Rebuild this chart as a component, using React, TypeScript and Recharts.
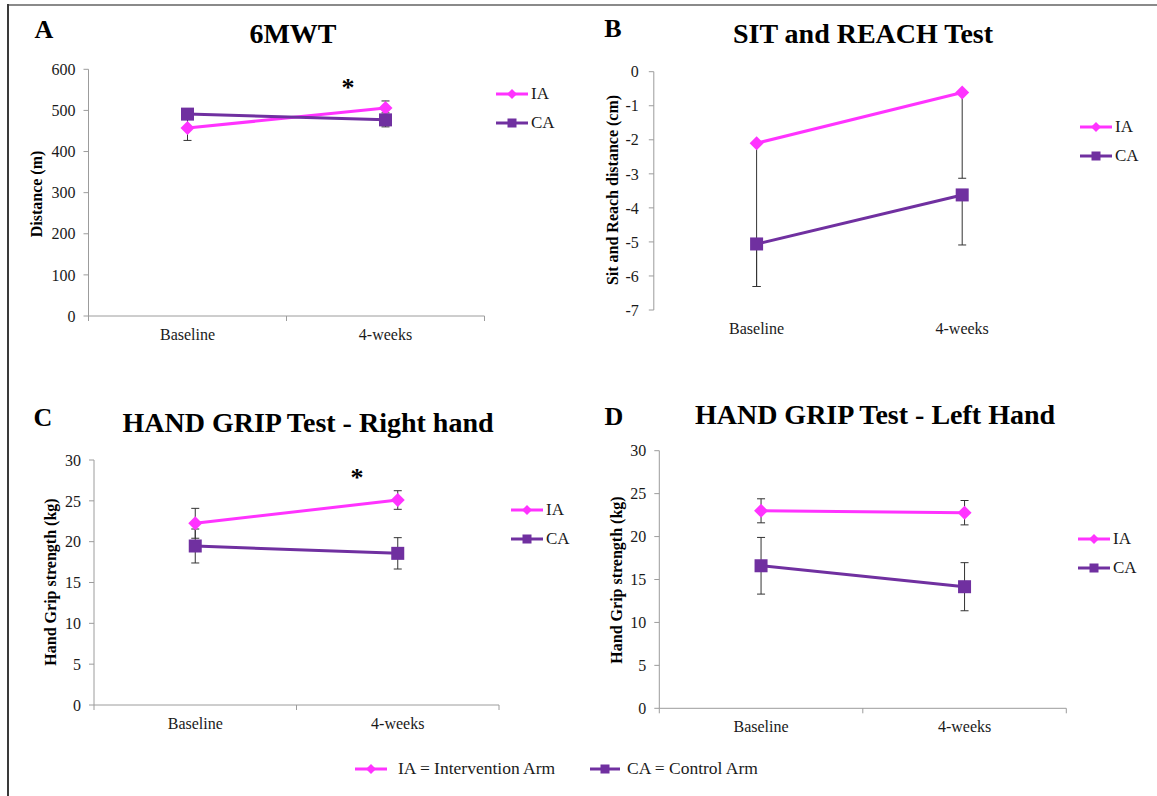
import React from "react";
import { LineChart, Line, XAxis, YAxis, ErrorBar, Legend } from "recharts";

const FONT = '"Liberation Serif", "Times New Roman", serif';
const IA_COLOR = "#FF33FF";
const CA_COLOR = "#7030A0";
const AXIS_COLOR = "#9c9c9c";
const TEXT_COLOR = "#1a1a1a";

const categories = ["Baseline", "4-weeks"];
const seriesNames = ["IA", "CA"];

// A - 6MWT (m)
const walkIA = [457, 506];
const walkIAErr = [30, 17];
const walkCA = [491, 477];
const walkCAErr = [12, 17];
const walkTicks = [0, 100, 200, 300, 400, 500, 600];

// B - sit and reach (cm), only the minus error bars are drawn
const reachIA = [-2.1, -0.61];
const reachIAErr = [4.21, 2.52];
const reachCA = [-5.06, -3.62];
const reachCAErr = [1.25, 1.47];
const reachTicks = [-7, -6, -5, -4, -3, -2, -1, 0];

// C - hand grip right (kg)
const rightIA = [22.25, 25.1];
const rightIAErr = [1.83, 1.14];
const rightCA = [19.47, 18.57];
const rightCAErr = [2.08, 1.92];

// D - hand grip left (kg)
const leftIA = [23.0, 22.78];
const leftIAErr = [1.4, 1.42];
const leftCA = [16.6, 14.16];
const leftCAErr = [3.3, 2.8];
const gripTicks = [0, 5, 10, 15, 20, 25, 30];

const buildRows = (ia, iaErr, ca, caErr, minusOnly = false) =>
  categories.map((name, i) => ({
    name,
    pos: i + 0.5,
    ia: ia[i],
    ca: ca[i],
    iaErr: minusOnly ? [iaErr[i], 0] : iaErr[i],
    caErr: minusOnly ? [caErr[i], 0] : caErr[i],
  }));

const diamondPath = (cx, cy, r) =>
  `M${cx},${cy - r}L${cx + r},${cy}L${cx},${cy + r}L${cx - r},${cy}Z`;

const DiamondDot = (p) => (
  <path key={`ia-${p.index}`} d={diamondPath(p.cx, p.cy, 7)} fill={IA_COLOR} />
);
const SquareDot = (p) => (
  <rect key={`ca-${p.index}`} x={p.cx - 6.5} y={p.cy - 6.5} width={13} height={13} fill={CA_COLOR} />
);

// category labels sit between the boundary tick marks, like the Excel axis
const CategoryTick = ({ x, y, payload, marks, labels }) => {
  const v = payload.value;
  if (Number.isInteger(v)) {
    return marks ? <line x1={x} x2={x} y1={y} y2={y + 5} stroke={AXIS_COLOR} /> : <g />;
  }
  return labels ? (
    <text x={x} y={y + 24} textAnchor="middle" fill={TEXT_COLOR} fontSize={16} fontFamily={FONT}>
      {categories[Math.floor(v)]}
    </text>
  ) : (
    <g />
  );
};

const LegendIcon = ({ kind, w = 32 }) => (
  <svg width={w} height={20} style={{ display: "block" }}>
    <line x1={0} x2={w} y1={10} y2={10} stroke={kind === "ia" ? IA_COLOR : CA_COLOR} strokeWidth={3} />
    {kind === "ia" ? (
      <path d={diamondPath(w / 2, 10, 5)} fill={IA_COLOR} />
    ) : (
      <rect x={w / 2 - 4.5} y={5.5} width={9} height={9} fill={CA_COLOR} />
    )}
  </svg>
);

const PanelLegend = ({ payload }) => {
  const items = [...(payload || [])].sort(
    (a, b) => seriesNames.indexOf(a.value) - seriesNames.indexOf(b.value)
  );
  return (
    <div style={{ fontFamily: FONT, fontSize: 17, color: TEXT_COLOR }}>
      {items.map((item) => (
        <div key={item.value} style={{ display: "flex", alignItems: "center", height: 29 }}>
          <LegendIcon kind={item.dataKey} />
          <span style={{ marginLeft: 3 }}>{item.value}</span>
        </div>
      ))}
    </div>
  );
};

const panels = [
  {
    id: "A", title: "6MWT", yLabel: "Distance (m)",
    left: 0, top: 0, width: 580, height: 380,
    plot: { l: 88.5, t: 69.3, r: 484.5, b: 316 },
    rows: buildRows(walkIA, walkIAErr, walkCA, walkCAErr),
    domain: [0, 600], ticks: walkTicks,
    legend: { left: 496, top: 79.5 },
    letterAt: [44, 30], titleAt: [293, 34], yLabelAt: [37, 194], star: [348, 87.5],
  },
  {
    id: "B", title: "SIT and REACH Test", yLabel: "Sit and Reach distance (cm)",
    left: 580, top: 0, width: 577, height: 380,
    plot: { l: 653.8, t: 71.7, r: 1065, b: 310 },
    rows: buildRows(reachIA, reachIAErr, reachCA, reachCAErr, true),
    domain: [-7, 0], ticks: reachTicks, axisAtTop: true,
    legend: { left: 500, top: 112.5 },
    letterAt: [613, 29], titleAt: [863, 34], yLabelAt: [613, 190],
  },
  {
    id: "C", title: "HAND GRIP Test - Right hand", yLabel: "Hand Grip strength (kg)",
    left: 0, top: 380, width: 580, height: 416,
    plot: { l: 94, t: 460, r: 499, b: 705 },
    rows: buildRows(rightIA, rightIAErr, rightCA, rightCAErr),
    domain: [0, 30], ticks: gripTicks,
    legend: { left: 511, top: 115.5 },
    letterAt: [43, 418], titleAt: [308, 423], yLabelAt: [51, 582], star: [357, 477.5],
  },
  {
    id: "D", title: "HAND GRIP Test - Left Hand", yLabel: "Hand Grip strength (kg)",
    left: 580, top: 380, width: 577, height: 416,
    plot: { l: 659.3, t: 450.7, r: 1066.3, b: 708.3 },
    rows: buildRows(leftIA, leftIAErr, leftCA, leftCAErr),
    domain: [0, 30], ticks: gripTicks,
    legend: { left: 498, top: 144.5 },
    letterAt: [614, 417], titleAt: [875, 415], yLabelAt: [617, 580],
  },
];

const Y_AXIS_W = 60;
const X_AXIS_H = 30;

const centered = (x, y, extra = {}) => ({
  position: "absolute",
  left: x,
  top: y,
  transform: "translate(-50%, -50%)",
  whiteSpace: "nowrap",
  lineHeight: 1,
  fontFamily: FONT,
  color: "#000",
  ...extra,
});

function Panel({ p }) {
  const margin = {
    left: p.plot.l - p.left - Y_AXIS_W,
    top: p.plot.t - p.top,
    right: p.left + p.width - p.plot.r,
    bottom: p.top + p.height - p.plot.b - X_AXIS_H,
  };
  return (
    <div style={{ position: "absolute", left: p.left, top: p.top }}>
      <LineChart width={p.width} height={p.height} data={p.rows} margin={margin}>
        <XAxis
          dataKey="pos"
          type="number"
          domain={[0, 2]}
          allowDataOverflow
          ticks={[0, 0.5, 1, 1.5, 2]}
          interval={0}
          height={X_AXIS_H}
          tickSize={0}
          tickMargin={0}
          tickLine={false}
          axisLine={p.axisAtTop ? false : { stroke: AXIS_COLOR }}
          tick={(t) => <CategoryTick {...t} marks={!p.axisAtTop} labels />}
        />
        {p.axisAtTop && (
          <XAxis
            xAxisId="top"
            orientation="top"
            type="number"
            domain={[0, 2]}
            allowDataOverflow
            ticks={[0, 1, 2]}
            interval={0}
            height={0}
            tickSize={0}
            tickMargin={0}
            tickLine={false}
            axisLine={{ stroke: AXIS_COLOR }}
            tick={(t) => <CategoryTick {...t} marks labels={false} />}
          />
        )}
        <YAxis
          width={Y_AXIS_W}
          type="number"
          domain={p.domain}
          ticks={p.ticks}
          interval={0}
          allowDataOverflow
          tickSize={5}
          tickMargin={p.axisAtTop ? 10 : 8}
          axisLine={{ stroke: AXIS_COLOR }}
          tickLine={{ stroke: AXIS_COLOR }}
          tick={{ fill: TEXT_COLOR, fontSize: 16, fontFamily: FONT }}
        />
        <Legend
          layout="vertical"
          align="center"
          verticalAlign="middle"
          wrapperStyle={{ left: p.legend.left, top: p.legend.top, width: "auto" }}
          content={(props) => <PanelLegend payload={props.payload} />}
        />
        <Line
          dataKey="ia"
          name={seriesNames[0]}
          stroke={IA_COLOR}
          strokeWidth={3}
          dot={DiamondDot}
          activeDot={false}
          isAnimationActive={false}
        >
          <ErrorBar dataKey="iaErr" width={4} stroke="#333" strokeWidth={1} direction="y" />
        </Line>
        <Line
          dataKey="ca"
          name={seriesNames[1]}
          stroke={CA_COLOR}
          strokeWidth={3}
          dot={SquareDot}
          activeDot={false}
          isAnimationActive={false}
        >
          <ErrorBar dataKey="caErr" width={4} stroke="#333" strokeWidth={1} direction="y" />
        </Line>
      </LineChart>
      <div style={{ position: "absolute", left: -p.left, top: -p.top }}>
        <div style={centered(p.letterAt[0], p.letterAt[1], { fontSize: 26, fontWeight: "bold" })}>{p.id}</div>
        <div style={centered(p.titleAt[0], p.titleAt[1], { fontSize: 28, fontWeight: "bold" })}>{p.title}</div>
        <div
          style={centered(p.yLabelAt[0], p.yLabelAt[1], {
            fontSize: 16,
            fontWeight: "bold",
            transform: "translate(-50%, -50%) rotate(-90deg)",
          })}
        >
          {p.yLabel}
        </div>
        {p.star && (
          <div style={centered(p.star[0], p.star[1], { fontSize: 26, fontWeight: "bold" })}>*</div>
        )}
      </div>
    </div>
  );
}

export default function App() {
  return (
    <div
      style={{
        position: "absolute",
        left: 0,
        top: 0,
        width: 1157,
        height: 796,
        background: "#fff",
        overflow: "hidden",
      }}
    >
      <div style={{ position: "absolute", left: 8, top: 4, width: 1149, height: 2, background: "#8a8a8a" }} />
      <div style={{ position: "absolute", left: 7, top: 4, width: 2, height: 792, background: "#3a3a3a" }} />
      {panels.map((p) => (
        <Panel key={p.id} p={p} />
      ))}
      <div style={{ position: "absolute", left: 355, top: 759 }}>
        <LegendIcon kind="ia" />
      </div>
      <div style={{ position: "absolute", left: 398, top: 758, fontFamily: FONT, fontSize: 17.5, color: TEXT_COLOR }}>
        IA = Intervention Arm
      </div>
      <div style={{ position: "absolute", left: 590, top: 759 }}>
        <LegendIcon kind="ca" w={30} />
      </div>
      <div style={{ position: "absolute", left: 627, top: 758, fontFamily: FONT, fontSize: 17.5, color: TEXT_COLOR }}>
        CA = Control Arm
      </div>
    </div>
  );
}
